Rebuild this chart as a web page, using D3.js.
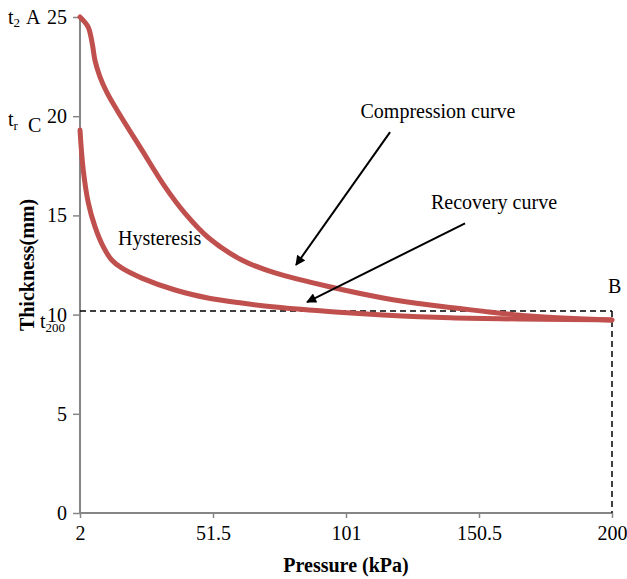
<!DOCTYPE html>
<html>
<head>
<meta charset="utf-8">
<script src="https://cdn.jsdelivr.net/npm/d3@7"></script>
<style>
  body { margin: 0; background: #fff; }
  text { font-family: "Liberation Serif", "Times New Roman", serif; fill: #000; }
</style>
</head>
<body>
<div id="chart"></div>
<script>
var width = 627,
    height = 579;

var margin = {left: 80, right: 15, top: 17, bottom: 66};

// Data
var pressureTicks = [2, 51.5, 101, 150.5, 200];
var thicknessTicks = [0, 5, 10, 15, 20, 25];

var compressionX = [2, 5.0, 6.5, 7.6, 9.4, 12.0, 15.8, 25.0, 33.6, 41.1, 49.6, 62.2, 74.6, 96.9, 114.8, 132.3, 150, 169.5, 200];
var compressionY = [25, 24.5, 23.7, 22.8, 22.0, 21.2, 20.3, 18.3, 16.45, 15.1, 13.9, 12.75, 12.1, 11.34, 10.84, 10.48, 10.2, 9.93, 9.73];

var recoveryX = [2, 3.2, 5.1, 7.6, 10.7, 13.8, 17.5, 25.0, 37.4, 49.6, 62.2, 74.6, 96.9, 114.8, 139.7, 200];
var recoveryY = [19.3, 17.3, 15.63, 14.42, 13.41, 12.75, 12.35, 11.84, 11.24, 10.84, 10.58, 10.38, 10.13, 9.98, 9.84, 9.73];

var t200 = 10.18;

var x = d3.scaleLinear().domain([2, 200]).range([margin.left, width - margin.right]);
var y = d3.scaleLinear().domain([0, 25]).range([height - margin.bottom, margin.top]);

var svg = d3.select("#chart").append("svg")
    .attr("width", width)
    .attr("height", height);

var defs = svg.append("defs");
defs.append("marker")
    .attr("id", "arrow")
    .attr("viewBox", "0 0 10 10")
    .attr("refX", 9)
    .attr("refY", 5)
    .attr("markerWidth", 6)
    .attr("markerHeight", 5)
    .attr("markerUnits", "strokeWidth")
    .attr("orient", "auto")
  .append("path")
    .attr("d", "M0,0L10,5L0,10z")
    .attr("fill", "#000");

/* -----------------AXES----------------- */

var xAxis = svg.append("g")
    .attr("transform", "translate(0," + y(0) + ")")
    .call(d3.axisBottom(x).tickValues(pressureTicks).tickSize(5).tickPadding(8)
      .tickFormat(function(d) { return d; }));

var yAxis = svg.append("g")
    .attr("transform", "translate(" + x(2) + ",0)")
    .call(d3.axisLeft(y).tickValues(thicknessTicks).tickSize(7).tickPadding(6));

[xAxis, yAxis].forEach(function(g) {
  g.select(".domain").attr("stroke", "#868686").attr("stroke-width", 2);
  g.selectAll(".tick line").attr("stroke", "#868686").attr("stroke-width", 1.5);
  g.selectAll(".tick text").attr("font-size", 20).attr("font-family", "Liberation Serif").attr("fill", "#000");
});
xAxis.select(".domain").attr("d", "M" + x(2) + ",0H" + x(200));
yAxis.select(".domain").attr("d", "M0," + y(0) + "V" + y(25));

svg.append("text")
    .attr("x", (x(2) + x(200)) / 2)
    .attr("y", 572)
    .attr("text-anchor", "middle")
    .attr("font-size", 20)
    .attr("font-weight", "bold")
    .text("Pressure (kPa)");

svg.append("text")
    .attr("transform", "translate(34," + (y(0) + y(25)) / 2 + ") rotate(-90)")
    .attr("text-anchor", "middle")
    .attr("font-size", 20)
    .attr("font-weight", "bold")
    .text("Thickness(mm)");

/* -----------------DASHED GUIDES----------------- */

svg.append("line")
    .attr("x1", x(2)).attr("x2", x(200))
    .attr("y1", y(t200)).attr("y2", y(t200))
    .attr("stroke", "#000").attr("stroke-width", 1.5)
    .attr("stroke-dasharray", "6,4");

svg.append("line")
    .attr("x1", x(200)).attr("x2", x(200))
    .attr("y1", y(t200)).attr("y2", y(0))
    .attr("stroke", "#000").attr("stroke-width", 1.5)
    .attr("stroke-dasharray", "6,4");

/* -----------------CURVES----------------- */

var lineFunction = d3.line()
    .x(function(d) { return x(d[0]); })
    .y(function(d) { return y(d[1]); })
    .curve(d3.curveCatmullRom);

[[compressionX, compressionY], [recoveryX, recoveryY]].forEach(function(s) {
  svg.append("path")
      .attr("d", lineFunction(d3.zip(s[0], s[1])))
      .attr("fill", "none")
      .attr("stroke", "#C0504D")
      .attr("stroke-width", 5)
      .attr("stroke-linecap", "round");
});

/* -----------------ANNOTATIONS----------------- */

var arrows = [
  {from: [117.4, 19.2], to: [82.4, 12.5]},
  {from: [145.3, 14.6], to: [86.5, 10.63]}
];

svg.selectAll(".arrow")
    .data(arrows)
  .enter().append("line")
    .attr("class", "arrow")
    .attr("x1", function(d) { return x(d.from[0]); })
    .attr("y1", function(d) { return y(d.from[1]); })
    .attr("x2", function(d) { return x(d.to[0]); })
    .attr("y2", function(d) { return y(d.to[1]); })
    .attr("stroke", "#000")
    .attr("stroke-width", 2)
    .attr("marker-end", "url(#arrow)");

svg.append("text").attr("x", 438).attr("y", 118).attr("text-anchor", "middle")
    .attr("font-size", 20).text("Compression curve");
svg.append("text").attr("x", 494).attr("y", 209).attr("text-anchor", "middle")
    .attr("font-size", 20).text("Recovery curve");
svg.append("text").attr("x", 118).attr("y", 245)
    .attr("font-size", 20).text("Hysteresis");
svg.append("text").attr("x", 608).attr("y", 293)
    .attr("font-size", 20).text("B");

// point labels next to the y ticks
var t2 = svg.append("text").attr("x", 8).attr("y", 24).attr("font-size", 20);
t2.append("tspan").text("t");
t2.append("tspan").attr("font-size", 13).attr("dy", 3).text("2");
t2.append("tspan").attr("dy", -3).attr("dx", 6).text("A");

var tr = svg.append("text").attr("x", 8).attr("y", 126).attr("font-size", 20);
tr.append("tspan").text("t");
tr.append("tspan").attr("font-size", 13).attr("dy", 4).text("r");
tr.append("tspan").attr("dy", 2).attr("dx", 10).text("C");

var tb = svg.append("text").attr("x", 40).attr("y", 328).attr("font-size", 20);
tb.append("tspan").text("t");
tb.append("tspan").attr("font-size", 13).attr("dy", 4).text("200");
</script>
</body>
</html>
